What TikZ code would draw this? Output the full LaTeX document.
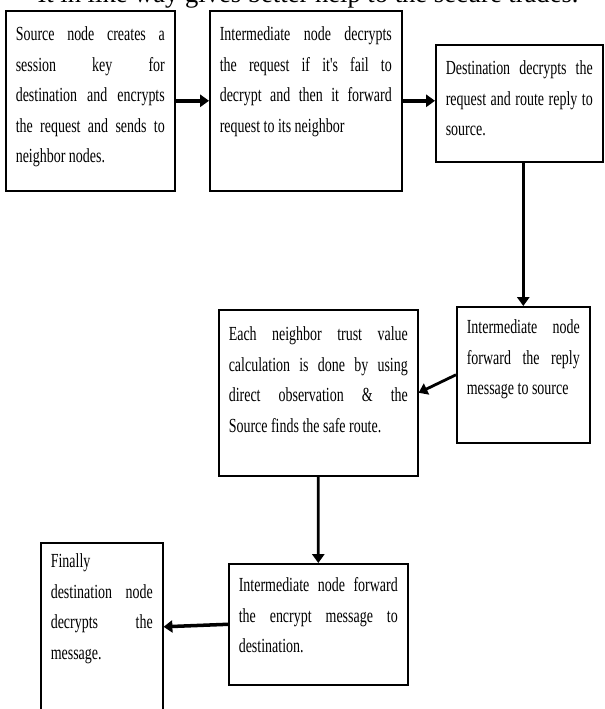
\documentclass[tikz,border=0pt]{standalone}
\usepackage{fontspec}
\setmainfont{Liberation Serif}
\newfontfamily\stagefont[FakeStretch=0.7]{Liberation Serif}
\usepackage{tikz}
\usetikzlibrary{arrows.meta}
\tikzstyle{stage}=[draw,rectangle,line width=1.1pt,anchor=north west,align=justify,inner xsep=0.25cm,inner ysep=0pt,text height=0.75cm,font={\stagefont\fontsize{14.2pt}{21.7pt}\selectfont\tolerance=10000\hbadness=10000 }]
\tikzstyle{flow}=[->,line width=2.5pt]
\tikzstyle{thinflow}=[->,line width=2pt]

\begin{document}
\begin{tikzpicture}[x=0.025cm,y=-0.025cm,>={Triangle[length=0.22cm,width=0.3cm]}]
	\useasboundingbox (0,0) rectangle (604,709);
	\node[anchor=base,font=\fontsize{18.9pt}{22pt}\selectfont] (title) at (308,3) {It in like way gives better help to the secure trades.};
	
	\node[stage,text width=3.725cm,text depth=3.75cm] (source) at (5,10) {Source node creates a\linebreak session key for\linebreak destination and encrypts\linebreak the request and sends to\linebreak neighbor nodes.};
	\node[stage,text width=4.3cm,text depth=3.75cm] (relay) at (209,10) {Intermediate node decrypts\linebreak the request if it's fail to\linebreak decrypt and then it forward\linebreak request to its neighbor};
	\node[stage,text width=3.675cm,text depth=2.175cm] (destination) at (435,44) {Destination decrypts the\linebreak request and route reply to\linebreak source.};
	\node[stage,text width=2.825cm,text height=0.675cm,text depth=2.725cm] (relayback) at (456,306) {Intermediate node\linebreak forward the reply\linebreak message to source};
	\node[stage,text width=4.475cm,text height=0.775cm,text depth=3.375cm] (trust) at (218,309) {Each neighbor trust value\linebreak calculation is done by using\linebreak direct observation \& the\linebreak Source finds the safe route.};
	\node[stage,text width=3.975cm,text height=0.7cm,text depth=2.325cm] (relayfwd) at (228,563) {Intermediate node forward\linebreak the encrypt message to\linebreak destination.};
	\node[stage,text width=2.55cm,text height=0.625cm,text depth=3.575cm] (finish) at (40,542) {Finally\linebreak destination node\linebreak decrypts the\linebreak message.};
	
	\draw[flow] (source.east) -- (relay.west);
	\draw[flow] (relay.east) -- (relay.east -| destination.west);
	\draw[thinflow] (destination.south -| relayback.north) -- (relayback.north);
	\draw[thinflow] (relayback.west) -- (trust.east);
	\draw[thinflow] (trust.south) -- (relayfwd.north);
	\draw[flow] (relayfwd.west) -- (finish.east);
\end{tikzpicture}
\end{document}
